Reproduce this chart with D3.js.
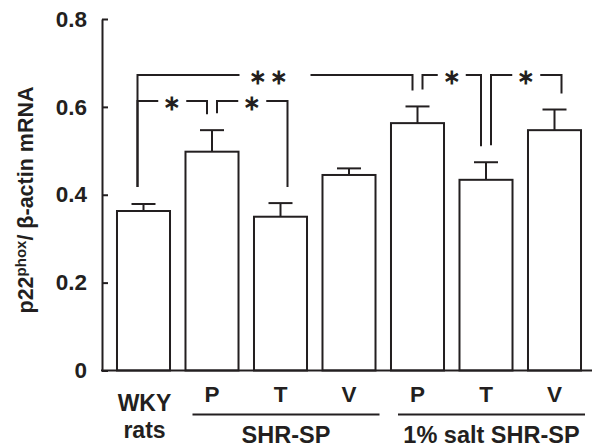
<!DOCTYPE html>
<html>
<head>
<meta charset="utf-8">
<script src="https://cdn.jsdelivr.net/npm/d3@7"></script>
<style>
  body { margin: 0; background: #fff; }
  text { font-family: "Liberation Sans", Arial, sans-serif; font-weight: bold; fill: #231f20; }
</style>
</head>
<body>
<svg id="canvas" width="592" height="447"></svg>
<script>
// Data
const groups = ["WKY", "SHR-P", "SHR-T", "SHR-V", "salt-P", "salt-T", "salt-V"];
const barLabels = ["", "P", "T", "V", "P", "T", "V"];
const means = [0.363, 0.498, 0.350, 0.445, 0.563, 0.434, 0.547];
const sems = [0.016, 0.049, 0.031, 0.015, 0.038, 0.040, 0.047];
const yTicks = [0, 0.2, 0.4, 0.6, 0.8];
const strains = [
  { name: "SHR-SP", first: "SHR-P", last: "SHR-V" },
  { name: "1% salt SHR-SP", first: "salt-P", last: "salt-V" }
];
// significance brackets
const comparisons = [
  { a: "WKY", b: "salt-P", label: "**", level: 0 },
  { a: "WKY", b: "SHR-P", label: "*", level: 1 },
  { a: "SHR-P", b: "SHR-T", label: "*", level: 1 },
  { a: "salt-P", b: "salt-T", label: "*", level: 0 },
  { a: "salt-T", b: "salt-V", label: "*", level: 0 }
];

const ink = "#231f20";
const svg = d3.select("#canvas");

const x = d3.scaleBand()
  .domain(groups)
  .range([109.25, 588.75])
  .paddingInner(0.226)
  .paddingOuter(0.113);

const y = d3.scaleLinear()
  .domain([0, 0.8])
  .range([370.5, 19]);

const axisX = 102;
const cx = g => x(g) + x.bandwidth() / 2;
const topOf = i => y(means[i] + sems[i]);

// --- Y axis (ticks point inward) ---
const yAxis = svg.append("g")
  .attr("transform", `translate(${axisX},0)`)
  .call(d3.axisLeft(y).tickValues(yTicks).tickSize(-6).tickSizeOuter(0).tickPadding(15)
        .tickFormat(d => d === 0 ? "0" : d3.format(".1f")(d)));
yAxis.select(".domain").attr("stroke", ink).attr("stroke-width", 2);
yAxis.selectAll(".tick line").attr("stroke", ink).attr("stroke-width", 2);
yAxis.selectAll(".tick text")
  .attr("font-family", null)
  .attr("font-size", 22.5)
  .attr("fill", ink);

// axis title
const title = svg.append("text")
  .attr("transform", `translate(33,${200}) rotate(-90)`)
  .attr("text-anchor", "middle")
  .attr("font-size", 21.5);
title.append("tspan").text("p22");
title.append("tspan").attr("font-size", 15).attr("dy", -7).text("phox");
title.append("tspan").attr("dy", 7).text("/ β-actin mRNA");

// --- Bars ---
svg.selectAll(".bar")
  .data(groups)
  .enter()
  .append("rect")
  .attr("class", "bar")
  .attr("x", d => x(d))
  .attr("y", (d, i) => y(means[i]))
  .attr("width", x.bandwidth())
  .attr("height", (d, i) => y(0) - y(means[i]))
  .attr("fill", "#fff")
  .attr("stroke", ink)
  .attr("stroke-width", 2);

// error bars (upper only)
const err = svg.selectAll(".err")
  .data(groups)
  .enter()
  .append("g")
  .attr("class", "err")
  .attr("stroke", ink)
  .attr("stroke-width", 2);
err.append("line")
  .attr("x1", d => cx(d)).attr("x2", d => cx(d))
  .attr("y1", (d, i) => y(means[i])).attr("y2", (d, i) => topOf(i));
err.append("line")
  .attr("x1", d => cx(d) - 12).attr("x2", d => cx(d) + 12)
  .attr("y1", (d, i) => topOf(i)).attr("y2", (d, i) => topOf(i));

// baseline
svg.append("line")
  .attr("x1", axisX - 1).attr("x2", 592)
  .attr("y1", y(0)).attr("y2", y(0))
  .attr("stroke", ink).attr("stroke-width", 2);

// --- Significance brackets ---
const levelY = [75, 101];
const br = svg.append("g").attr("stroke", ink).attr("stroke-width", 2).attr("fill", "none");
comparisons.forEach(c => {
  const ia = groups.indexOf(c.a), ib = groups.indexOf(c.b);
  const endsAtA = comparisons.some(o => o.b === c.a);
  const startsAtB = comparisons.some(o => o.a === c.b);
  const x1 = cx(c.a) + (endsAtA ? 5 : -6);
  const x2 = cx(c.b) + (startsAtB ? -5 : 7);
  const ly = levelY[c.level];
  const mid = (x1 + x2) / 2;
  const half = c.label === "**" ? 35.5 : 14;
  br.append("path").attr("d", `M${x1},${topOf(ia) - 17}V${ly}H${mid - half}`);
  br.append("path").attr("d", `M${mid + half},${ly}H${x2}V${topOf(ib) - 16}`);
  svg.append("text")
    .attr("x", c.label === "**" ? mid - 5 : mid)
    .attr("y", ly + 9)
    .attr("text-anchor", "middle")
    .attr("font-family", "DejaVu Sans")
    .attr("font-weight", "normal")
    .attr("font-size", 21)
    .attr("letter-spacing", c.label === "**" ? 3 : 0)
    .text(c.label === "**" ? "∗∗" : "∗");
});

// --- X labels ---
svg.selectAll(".xlab")
  .data(groups)
  .enter()
  .append("text")
  .attr("class", "xlab")
  .attr("x", d => cx(d))
  .attr("y", 402)
  .attr("text-anchor", "middle")
  .attr("font-size", 22.5)
  .text((d, i) => barLabels[i]);

svg.append("text").attr("x", cx("WKY") + 1).attr("y", 411)
  .attr("text-anchor", "middle").attr("font-size", 23).text("WKY");
svg.append("text").attr("x", cx("WKY") + 1).attr("y", 438)
  .attr("text-anchor", "middle").attr("font-size", 23).text("rats");

strains.forEach(s => {
  const left = x(s.first) + 7, right = x(s.last) + x.bandwidth() + 4;
  svg.append("line")
    .attr("x1", left).attr("x2", right)
    .attr("y1", 414.5).attr("y2", 414.5)
    .attr("stroke", ink).attr("stroke-width", 2);
  svg.append("text")
    .attr("x", (left + right) / 2)
    .attr("y", 443)
    .attr("text-anchor", "middle")
    .attr("font-size", 23.5)
    .text(s.name);
});
</script>
</body>
</html>
